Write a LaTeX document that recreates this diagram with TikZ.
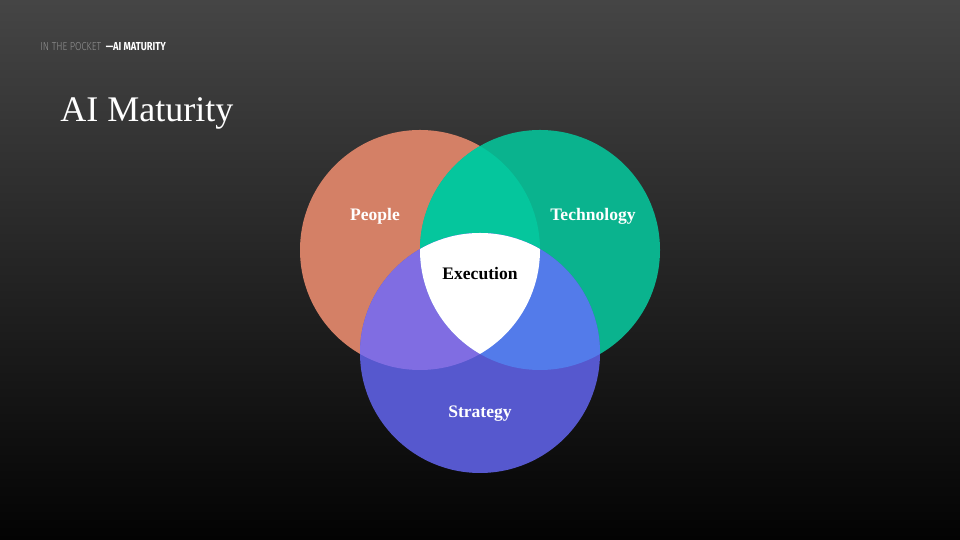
\documentclass[tikz,border=0pt]{standalone}
\usepackage{fontspec}
\setmainfont{Liberation Serif}
\newfontfamily\headfont[FakeStretch=0.8]{Fira Sans}
\newfontfamily\headfontlight[FakeStretch=0.8]{Fira Sans Light}
\usetikzlibrary{positioning, calc}

\definecolor{bgtop}{HTML}{454545}
\definecolor{bgbottom}{HTML}{030303}
\definecolor{peoplecol}{HTML}{D48066}
\definecolor{techcol}{HTML}{0AB38E}
\definecolor{stratcol}{HTML}{5658CE}
\definecolor{ptcol}{HTML}{05C69D}
\definecolor{pscol}{HTML}{806DE2}
\definecolor{tscol}{HTML}{537BEA}

\begin{document}
\begin{tikzpicture}[
    x=0.02cm, y=0.02cm,
    setlabel/.style={
        font=\fontsize{10}{12}\selectfont\bfseries, text=white
    },
    corelabel/.style={
        font=\fontsize{10}{12}\selectfont\bfseries, text=black
    },
    header/.style={
        anchor=base west, inner sep=0pt, font=\fontsize{6.6}{8}\selectfont
    },
    pagetitle/.style={
        anchor=base west, inner sep=0pt, text=white,
        font=\fontsize{20.5}{24}\selectfont
    }
]

% --- Background ---
\useasboundingbox (0,0) rectangle (960,540);
\shade[top color=bgtop, bottom color=bgbottom] (0,0) rectangle (960,540);

% --- Header and title ---
\node[header, text=gray!85] (pocket) at (40,489)
    {\headfontlight IN THE POCKET};
\node[header, text=white, right=4 of pocket.base east, anchor=base west] (section)
    {\headfont\bfseries —AI MATURITY};
\node[pagetitle] (title) at (60,418) {AI Maturity};

% --- Circle centres ---
\coordinate (people) at (420,290);
\coordinate (tech) at (540,290);
\coordinate (strat) at (480,187);

% --- Circles ---
\fill[peoplecol] (people) circle (120);
\fill[techcol] (tech) circle (120);
\fill[stratcol] (strat) circle (120);

% --- Overlaps ---
\begin{scope}
    \clip (people) circle (120);
    \fill[ptcol] (tech) circle (120);
    \fill[pscol] (strat) circle (120);
\end{scope}
\begin{scope}
    \clip (tech) circle (120);
    \fill[tscol] (strat) circle (120);
\end{scope}
\begin{scope}
    \clip (people) circle (120);
    \clip (tech) circle (120);
    \fill[white] (strat) circle (120);
\end{scope}

% --- Labels ---
\node[setlabel] (peoplelabel) at (375,324) {People};
\node[setlabel] (techlabel) at (593,324) {Technology};
\node[setlabel] (stratlabel) at (480,126) {Strategy};
\node[corelabel] (execlabel) at (480,266) {Execution};

\end{tikzpicture}
\end{document}
